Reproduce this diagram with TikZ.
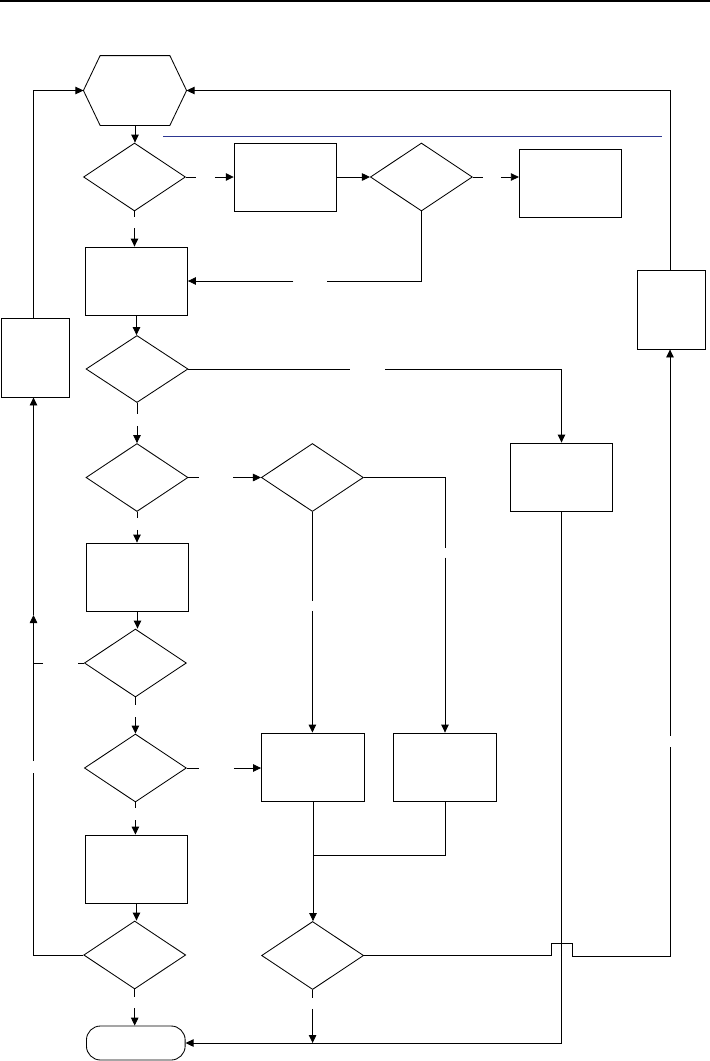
\documentclass[tikz,border=0pt]{standalone}
\usetikzlibrary{arrows.meta,shapes.geometric,calc}
\definecolor{rulblue}{RGB}{45,55,145}
\begin{document}
\begin{tikzpicture}[x=1pt,y=-1pt,line width=0.85pt,
  box/.style={draw,rectangle,minimum width=102pt,minimum height=68pt,inner sep=0pt},
  dia/.style={draw,diamond,minimum width=102pt,minimum height=68pt,inner sep=0pt},
  tallbox/.style={draw,rectangle,minimum width=68pt,minimum height=79pt,inner sep=0pt},
  hexbox/.style={rectangle,minimum width=102.3pt,minimum height=69pt,inner sep=0pt},
  termbox/.style={draw,rectangle,rounded corners=14pt,minimum width=98.7pt,minimum height=34pt,inner sep=0pt},
  arr/.style={-{Triangle[length=8pt,width=7.5pt]}},
  blueline/.style={draw=rulblue,line width=1pt}]
\useasboundingbox (0,0) rectangle (710,1061);
% top rule and blue rule
\coordinate (tl) at (0,0.8); \coordinate (tr) at (710,0.8);
\draw[line width=1.5pt] (tl) -- (tr);
\coordinate (bl) at (163,136.7); \coordinate (br) at (662.4,136.7);
\draw[blueline] (bl) -- (br);
% nodes
\node[hexbox] (hex) at (135,90.5) {};
\draw (hex.west) -- ($(hex.north west)+(16.7,0)$) -- ($(hex.north east)+(-16.7,0)$) -- (hex.east)
  -- ($(hex.south east)+(-16.7,0)$) -- ($(hex.south west)+(16.7,0)$) -- cycle;
\node[dia] (D1) at (134.5,177) {};
\node[box] (R1) at (285.2,177) {};
\node[dia] (D2) at (421.4,177) {};
\node[box] (R2) at (570.3,183) {};
\node[box] (R3) at (136.5,281) {};
\node[tallbox] (L) at (35.3,357.5) {};
\node[tallbox,minimum width=67.5pt] (RR) at (671.3,309.5) {};
\node[dia,minimum height=67pt] (D3) at (137,369) {};
\node[box] (R4) at (561.5,477) {};
\node[dia] (D4) at (137,477.5) {};
\node[dia] (D5) at (312.4,477.5) {};
\node[box] (R5) at (137.5,577) {};
\node[dia] (D6) at (135.4,663) {};
\node[dia] (D7) at (135.4,768) {};
\node[box,minimum width=103pt] (R8) at (313,767) {};
\node[box,minimum width=103pt] (R6) at (445,767) {};
\node[box] (R7) at (136.5,869) {};
\node[dia] (D8) at (134.7,955) {};
\node[dia] (D9) at (312.6,955.5) {};
\node[termbox] (term) at (135.8,1043) {};
% helper coordinates
\coordinate (lm) at (33.5,615);
\coordinate (lj) at (33.5,663);
\coordinate (lb) at (33.5,955);
\coordinate (rt) at (670,90.5);
\coordinate (rb) at (670,956);
\coordinate (jn) at (313.3,855);
\coordinate (b1) at (551.7,955.5);
\coordinate (b2) at (551.7,943.3);
\coordinate (b3) at (572.3,943.3);
\coordinate (b4) at (572.3,956);
% connectors
\draw[arr] (hex.south) -- (hex.south |- D1.north);
\draw (D1.east) -- ++(10.4,0);
\draw[arr] ($(R1.west)+(-19,0)$) -- (R1.west);
\draw[arr] (R1.east) -- (D2.west);
\draw (D2.east) -- ++(10,0);
\draw[arr] ($(D2.east)+(28,0)$) -- (D2.east -| R2.west);
\draw (D1.south) -- ++(0,6);
\draw[arr] ($(D1.south)+(0,17)$) -- (D1.south |- R3.north);
\draw (D2.south) -- (D2.south |- R3.east) -- ($(D2.south |- R3.east)+(-94,0)$);
\draw[arr] ($(R3.east)+(105.5,0)$) -- (R3.east);
\draw[arr] (R3.south) -- (R3.south |- D3.north);
\draw (D3.east) -- ++(162,0);
\draw[arr] ($(D3.east)+(197,0)$) -- (D3.east -| R4.north) -- (R4.north);
\draw (D3.south) -- ++(0,11);
\draw[arr] ($(D3.south)+(0,23)$) -- (D3.south |- D4.north);
\draw (D4.east) -- ++(10.3,0);
\draw[arr] ($(D5.west)+(-27.7,0)$) -- (D5.west);
\draw (D4.south) -- ++(0,6);
\draw[arr] ($(D4.south)+(0,18)$) -- (D4.south |- R5.north);
\draw (D5.east) -- (D5.east -| R6.north) -- ($(D5.east -| R6.north)+(0,70)$);
\draw[arr] ($(D5.east -| R6.north)+(0,80)$) -- (R6.north);
\draw (D5.south) -- ++(0,89);
\draw[arr] ($(D5.south)+(0,99)$) -- (D5.south |- R8.north);
\draw[arr] (R5.south) -- (R5.south |- D6.north);
\draw (D6.south) -- ++(0,8);
\draw[arr] ($(D6.south)+(0,20)$) -- (D6.south |- D7.north);
\draw (D6.west) -- ++(-5.5,0);
\draw ($(lj)+(9.5,0)$) -- (lj);
\draw (D7.east) -- ++(12.2,0);
\draw[arr] ($(D7.east -| R8.west)+(-27.3,0)$) -- (D7.east -| R8.west);
\draw (D7.south) -- ++(0,6);
\draw[arr] ($(D7.south)+(0,18)$) -- (D7.south |- R7.north);
\draw[arr] (R7.south) -- (R7.south |- D8.north);
\draw (D8.west) -- (lb) -- ($(lb)+(0,-182)$);
\draw[arr] ($(lb)+(0,-194)$) -- (lm);
\draw[arr] (lm) -- (lm |- L.south);
\draw[arr] (lm |- L.north) -- (lm |- hex.west) -- (hex.west);
\draw[arr] (rt |- RR.north) -- (rt) -- (hex.east);
\draw (D8.south) -- ++(0,8);
\draw[arr] ($(D8.south)+(0,19)$) -- (D8.south |- term.north);
\draw[arr] (R8.south) -- (R8.south |- D9.north);
\draw (R6.south) -- (R6.south |- jn) -- (jn);
\draw (D9.south) -- ++(0,8);
\draw[arr] ($(D9.south)+(0,19)$) -- (D9.south |- term.east);
\draw[arr] (R4.south) -- (R4.south |- term.east) -- (term.east);
\draw (D9.east) -- (b1) -- (b2) -- (b3) -- (b4) -- (rb) -- ($(rb)+(0,-209.3)$);
\draw[arr] ($(rb)+(0,-220.3)$) -- (rb |- RR.south);
\end{tikzpicture}
\end{document}
